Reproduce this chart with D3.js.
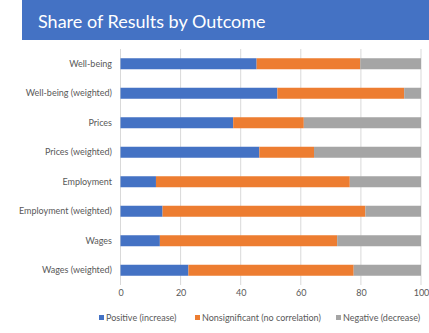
<!DOCTYPE html>
<html>
<head>
<meta charset="utf-8">
<script src="https://cdn.jsdelivr.net/npm/d3@7"></script>
<style>
  html, body { margin: 0; padding: 0; background: #fff; }
  svg { display: block; }
</style>
</head>
<body>
<div id="chart"></div>
<script>
// data
const categories = [
  'Well-being',
  'Well-being (weighted)',
  'Prices',
  'Prices (weighted)',
  'Employment',
  'Employment (weighted)',
  'Wages',
  'Wages (weighted)',
];
const positive = [45.3, 52.2, 37.5, 46.2, 11.8, 14.0, 13.1, 22.6];
const nonsignificant = [34.5, 42.2, 23.5, 18.2, 64.5, 67.5, 59.0, 55.0];
const negative = [20.2, 5.6, 39.0, 35.6, 23.7, 18.5, 27.9, 22.4];
const xTicks = [0, 20, 40, 60, 80, 100];
const seriesNames = ['Positive (increase)', 'Nonsignificant (no correlation)', 'Negative (decrease)'];

const colors = {
  blue: '#4472c4',
  orange: '#ed7d31',
  gray: '#a5a5a5',
  grid: '#d9d9d9',
  text: '#595959',
};
const font = 'Lato, "Open Sans", sans-serif';

const width = 429;
const height = 333;

const svg = d3.select('#chart')
  .append('svg')
  .attr('width', width)
  .attr('height', height);

// title band
svg.append('rect')
  .attr('x', 22)
  .attr('y', 0)
  .attr('width', width - 22)
  .attr('height', 40)
  .attr('fill', colors.blue);
svg.append('text')
  .attr('x', 38)
  .attr('y', 28)
  .attr('fill', '#fff')
  .attr('font-family', font)
  .attr('font-size', 18)
  .text('Share of Results by Outcome');

const x = d3.scaleLinear()
  .domain([0, 100])
  .range([120.5, 421]);

const y = d3.scaleBand()
  .domain(categories)
  .range([49, 285])
  .paddingInner(0.627)
  .paddingOuter(0.3135);

// gridlines
svg.append('g')
  .selectAll('line')
  .data(xTicks)
  .join('line')
  .attr('x1', (d) => x(d))
  .attr('x2', (d) => x(d))
  .attr('y1', 49)
  .attr('y2', 285)
  .attr('stroke', colors.grid)
  .attr('stroke-width', 1);

// stacked bars
const rows = categories.map((c, i) => ({
  category: c,
  positive: positive[i],
  nonsignificant: nonsignificant[i],
  negative: negative[i],
}));
const keys = ['positive', 'nonsignificant', 'negative'];
const fills = [colors.blue, colors.orange, colors.gray];
const stacked = d3.stack().keys(keys)(rows);

svg.append('g')
  .selectAll('g')
  .data(stacked)
  .join('g')
  .attr('fill', (d, i) => fills[i])
  .selectAll('rect')
  .data((d) => d)
  .join('rect')
  .attr('x', (d) => x(d[0]))
  .attr('y', (d) => y(d.data.category))
  .attr('width', (d) => x(d[1]) - x(d[0]))
  .attr('height', y.bandwidth());

// y axis labels
svg.append('g')
  .attr('transform', 'translate(112,0)')
  .call(d3.axisLeft(y).tickSize(0).tickPadding(0))
  .call((g) => g.select('.domain').remove())
  .call((g) => g.selectAll('text')
    .attr('fill', colors.text)
    .attr('font-family', font)
    .attr('font-size', 9));

// x axis labels
svg.append('g')
  .attr('transform', 'translate(0,290)')
  .call(d3.axisBottom(x).tickValues(xTicks).tickSize(0).tickPadding(0))
  .call((g) => g.select('.domain').remove())
  .call((g) => g.selectAll('text')
    .attr('fill', colors.text)
    .attr('font-family', font)
    .attr('font-size', 9));

// legend
const legendX = [99, 195, 336];
const legend = svg.append('g')
  .selectAll('g')
  .data(seriesNames)
  .join('g')
  .attr('transform', (d, i) => `translate(${legendX[i]},318)`);
legend.append('rect')
  .attr('x', 0)
  .attr('y', -3)
  .attr('width', 5)
  .attr('height', 5)
  .attr('fill', (d, i) => fills[i]);
legend.append('text')
  .attr('x', 7)
  .attr('y', 3)
  .attr('fill', colors.text)
  .attr('font-family', font)
  .attr('font-size', 9)
  .text((d) => d);
</script>
</body>
</html>
